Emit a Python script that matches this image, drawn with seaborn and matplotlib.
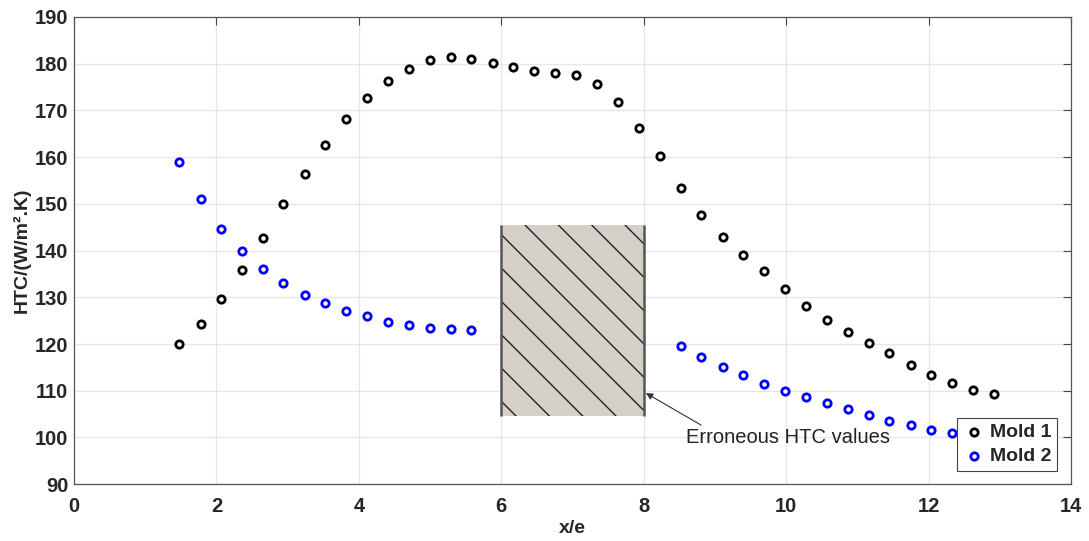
import matplotlib.pyplot as plt
import matplotlib.patches as mpatches
import seaborn as sns
import numpy as np

# x/e positions and HTC values
x_mold1 = [1.48, 1.78, 2.07, 2.36, 2.65, 2.94, 3.24, 3.53, 3.82, 4.12,
           4.41, 4.70, 5.00, 5.29, 5.58, 5.88, 6.17, 6.46, 6.76, 7.05,
           7.34, 7.64, 7.93, 8.23, 8.52, 8.81, 9.11, 9.40, 9.69, 9.99,
           10.28, 10.57, 10.87, 11.16, 11.45, 11.75, 12.04, 12.33, 12.63, 12.92]
htc_mold1 = [120.0, 124.3, 129.6, 135.8, 142.8, 149.9, 156.4, 162.5, 168.1, 172.7,
             176.2, 178.8, 180.7, 181.4, 181.0, 180.2, 179.2, 178.4, 178.1, 177.5,
             175.7, 171.7, 166.3, 160.2, 153.4, 147.7, 143.0, 139.1, 135.6, 131.8,
             128.2, 125.2, 122.6, 120.2, 118.1, 115.6, 113.3, 111.7, 110.2, 109.2]

x_mold2 = [1.48, 1.78, 2.07, 2.36, 2.65, 2.94, 3.24, 3.53, 3.82, 4.12,
           4.41, 4.70, 5.00, 5.29, 5.58,
           8.52, 8.81, 9.11, 9.40, 9.69, 9.99, 10.28, 10.57, 10.87, 11.16,
           11.45, 11.75, 12.04, 12.33]
htc_mold2 = [159.0, 151.0, 144.7, 140.0, 136.1, 133.1, 130.6, 128.7, 127.1, 125.9,
             124.7, 124.0, 123.5, 123.2, 122.9,
             119.6, 117.2, 115.1, 113.3, 111.4, 109.9, 108.6, 107.3, 106.0, 104.9,
             103.6, 102.6, 101.7, 100.9]

# erroneous region
bad_x = (6, 8)
bad_y = (104.7, 145.5)

sns.set_theme(style="whitegrid")
plt.rcParams['font.family'] = ['Liberation Sans', 'DejaVu Sans']
plt.rcParams['hatch.linewidth'] = 1.0

fig = plt.figure(figsize=(10.89, 5.41), dpi=100)
ax = fig.add_axes([0.068, 0.105, 0.9155, 0.8636])

w, h = bad_x[1] - bad_x[0], bad_y[1] - bad_y[0]
ax.add_patch(mpatches.Rectangle((bad_x[0], bad_y[0]), w, h,
                                facecolor='#d4d0c8', edgecolor='none', zorder=2))
ax.add_patch(mpatches.Rectangle((bad_x[0], bad_y[0]), w, h, facecolor='none',
                                edgecolor='#222222', linewidth=0, hatch='\\', zorder=2.5))
ax.vlines(bad_x, bad_y[0], bad_y[1], color='#555555', lw=1.8, zorder=3)

sns.scatterplot(x=x_mold1, y=htc_mold1, ax=ax, marker='o', s=28, facecolor='white',
                edgecolor='black', linewidth=2, label='Mold 1', zorder=4)
sns.scatterplot(x=x_mold2, y=htc_mold2, ax=ax, marker='o', s=28, facecolor='white',
                edgecolor='blue', linewidth=2, label='Mold 2', zorder=4)

ax.annotate('Erroneous HTC values', xy=(8.03, 109.5), xytext=(8.6, 99.9),
            fontsize=14.5, color='#222222', va='center', ha='left',
            arrowprops=dict(arrowstyle='-|>', color='#333333', lw=0.8,
                            mutation_scale=10, shrinkA=0, shrinkB=0,
                            relpos=(0.1, 1.0)), zorder=5)

ax.set_xlim(0, 14)
ax.set_ylim(90, 190)
ax.set_xticks(np.arange(0, 15, 2))
ax.set_yticks(np.arange(90, 191, 10))
ax.tick_params(axis='both', labelsize=14.5, direction='in', length=6, width=0.8,
               color='#444444', top=True, right=True, labelcolor='#262626')
ax.tick_params(axis='x', pad=9)
ax.tick_params(axis='y', pad=4)
for lab in ax.get_xticklabels() + ax.get_yticklabels():
    lab.set_fontweight('bold')
ax.set_xlabel('x/e', fontsize=14, fontweight='bold', color='#262626', labelpad=3)
ax.set_ylabel('HTC/(W/m².K)', fontsize=14, fontweight='bold', color='#262626', labelpad=3)

ax.grid(True, color='#e6e6e6', lw=0.9)
for sp in ax.spines.values():
    sp.set_visible(True)
    sp.set_color('#555555')
    sp.set_linewidth(0.9)

leg = ax.legend(loc='lower right', frameon=True, fancybox=False,
                borderaxespad=0.7, handletextpad=0.3, borderpad=0.3,
                labelspacing=0.3, handlelength=1.1, prop={'weight': 'bold', 'size': 14})
leg.get_frame().set_edgecolor('#444444')
leg.get_frame().set_linewidth(0.8)
leg.get_frame().set_alpha(1.0)

fig.savefig('out.png', dpi=100)
